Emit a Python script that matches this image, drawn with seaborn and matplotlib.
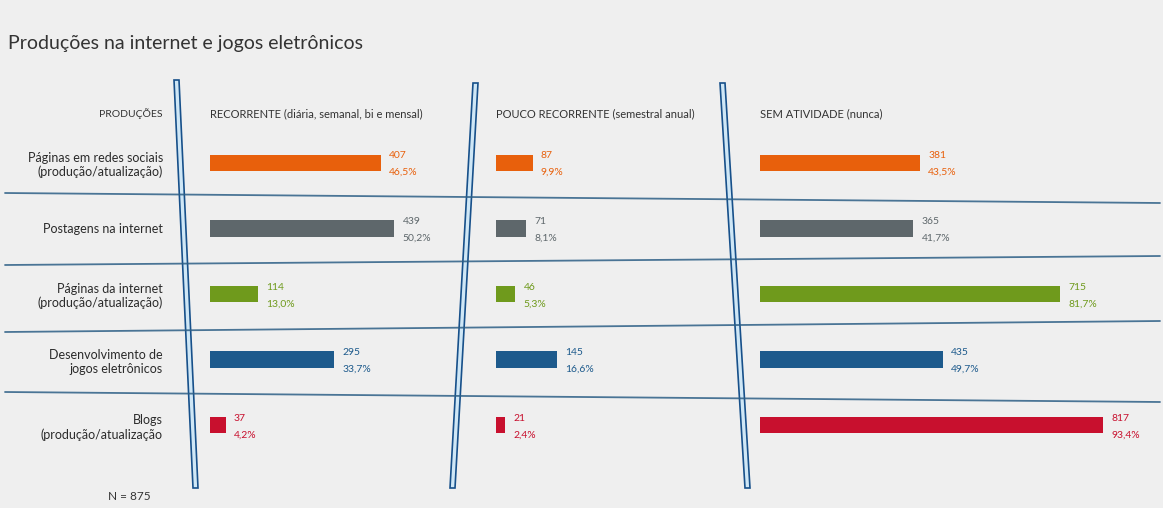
import numpy as np
import pandas as pd
import matplotlib
matplotlib.use("Agg")
import matplotlib.pyplot as plt
import seaborn as sns
from matplotlib.lines import Line2D
from matplotlib.patches import Polygon

# data
producoes = [
    "Páginas em redes sociais\n(produção/atualização)",
    "Postagens na internet",
    "Páginas da internet\n(produção/atualização)",
    "Desenvolvimento de\njogos eletrônicos",
    "Blogs\n(produção/atualização",
]
colunas = [
    "RECORRENTE (diária, semanal, bi e mensal)",
    "POUCO RECORRENTE (semestral anual)",
    "SEM ATIVIDADE (nunca)",
]
recorrente = [407, 439, 114, 295, 37]
recorrente_pct = ["46,5%", "50,2%", "13,0%", "33,7%", "4,2%"]
pouco = [87, 71, 46, 145, 21]
pouco_pct = ["9,9%", "8,1%", "5,3%", "16,6%", "2,4%"]
sem = [381, 365, 715, 435, 817]
sem_pct = ["43,5%", "41,7%", "81,7%", "49,7%", "93,4%"]
n_total = 875

cores = ["#e8600c", "#5e676b", "#6f9a1c", "#1d5a8c", "#c8102e"]

W, H = 1163, 508
sns.set_theme(style="white")
plt.rcParams["font.family"] = ["Lato", "DejaVu Sans"]

fig = plt.figure(figsize=(W / 100, H / 100), dpi=100, facecolor="#efefef")


def fx(x):
    return x / W


def fy(y):
    return 1 - y / H


PX_PER_UNIT = 0.42
top_px, bot_px = 130, 458
paineis = [
    (210, 460, recorrente, recorrente_pct),
    (496, 720, pouco, pouco_pct),
    (760, 1150, sem, sem_pct),
]

axes = []
for i, (x0, x1, vals, pcts) in enumerate(paineis):
    ax = fig.add_axes([fx(x0), fy(bot_px), (x1 - x0) / W, (bot_px - top_px) / H])
    ax.set_facecolor("none")
    df = pd.DataFrame({"producao": producoes, "valor": vals})
    sns.barplot(data=df, x="valor", y="producao", hue="producao", palette=cores,
                orient="h", width=0.25, legend=False, ax=ax, saturation=1, linewidth=0)
    ax.set_xlim(0, (x1 - x0) / PX_PER_UNIT)
    ax.set_ylim(4.5, -0.5)
    ax.set_xlabel("")
    ax.set_ylabel("")
    ax.set_xticks([])
    sns.despine(ax=ax, left=True, bottom=True)
    for j, p in enumerate(ax.patches):
        xe = p.get_width()
        yc = p.get_y() + p.get_height() / 2
        ax.annotate(str(vals[j]), (xe, yc), xytext=(6, 5), textcoords="offset points",
                    ha="left", va="center", fontsize=7.5, color=cores[j])
        ax.annotate(pcts[j], (xe, yc), xytext=(6, -7), textcoords="offset points",
                    ha="left", va="center", fontsize=7.5, color=cores[j])
    if i == 0:
        ax.tick_params(axis="y", length=0, pad=34)
        for t in ax.get_yticklabels():
            t.set_multialignment("right")
            t.set_fontsize(9)
            t.set_color("#2b2b2b")
    else:
        ax.set_yticks([])
    axes.append(ax)

# title and headers
fig.text(fx(8), fy(44), "Produções na internet e jogos eletrônicos", fontsize=14,
         color="#333333", ha="left", va="center")
fig.text(fx(162), fy(114), "PRODUÇÕES", fontsize=7.5, color="#333333", ha="right", va="center")
for (x0, _, _, _), col in zip(paineis, colunas):
    fig.text(fx(x0), fy(114), col, fontsize=8, color="#333333", ha="left", va="center")
fig.text(fx(108), fy(496), f"N = {n_total}", fontsize=8.5, color="#333333", ha="left", va="center")

# row separators
separadores = [((5, 193), (1160, 203)), ((5, 265), (1160, 256)),
               ((5, 332), (1160, 321)), ((5, 392), (1160, 402))]
for (xa, ya), (xb, yb) in separadores:
    fig.add_artist(Line2D([fx(xa), fx(xb)], [fy(ya), fy(yb)], color="#2d5f86",
                          lw=1.3, alpha=0.85))

# slanted column dividers
divisores = [((174, 80), (193, 488)), ((473, 83), (450, 488)), ((720, 83), (745, 488))]
for (xa, ya), (xb, yb) in divisores:
    pts = [(fx(xa), fy(ya)), (fx(xa + 5), fy(ya)), (fx(xb + 5), fy(yb)), (fx(xb), fy(yb))]
    fig.add_artist(Polygon(pts, closed=True, facecolor="#cfe7f6", edgecolor="#17508a", lw=1.2))

fig.savefig("out.png", dpi=100, facecolor=fig.get_facecolor())
